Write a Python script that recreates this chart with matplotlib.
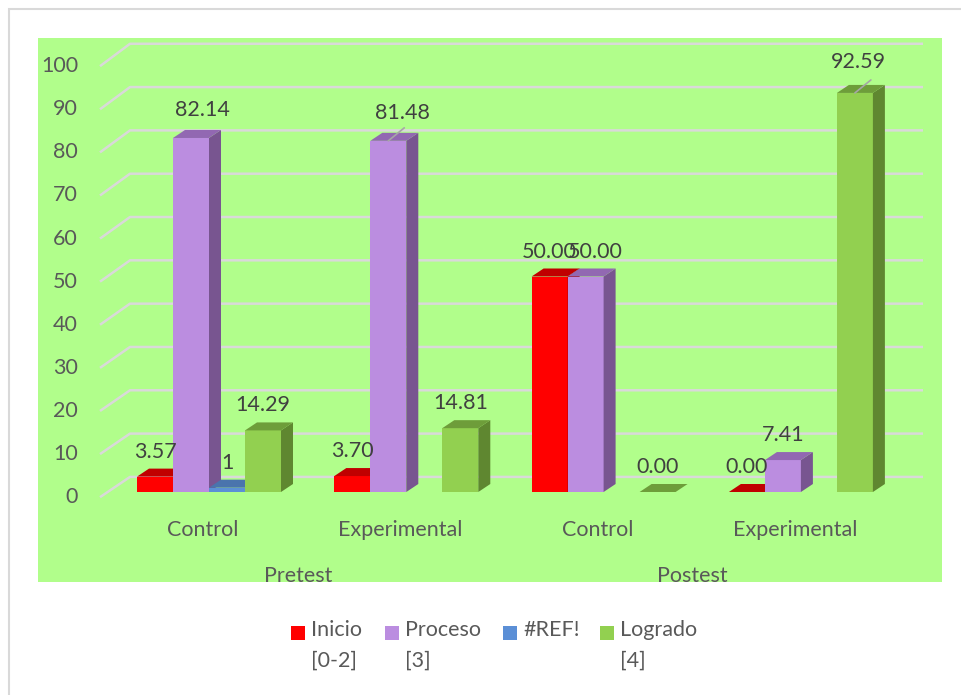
import matplotlib.pyplot as plt
from matplotlib.patches import Polygon, Rectangle
import numpy as np

plt.rcParams['font.family'] = ['Lato', 'DejaVu Sans']

# datos
grupos = ['Control', 'Experimental', 'Control', 'Experimental']
fases = ['Pretest', 'Postest']
series = ['Inicio\n[0-2]', 'Proceso\n[3]', '#REF!', 'Logrado\n[4]']
inicio = [3.57, 3.70, 50.00, 0.00]
proceso = [82.14, 81.48, 50.00, 7.41]
ref = [1, np.nan, np.nan, np.nan]
logrado = [14.29, 14.81, 0.00, 92.59]
valores = [inicio, proceso, ref, logrado]
formatos = ['{:.2f}', '{:.2f}', '{:g}', '{:.2f}']
ticks_y = list(range(0, 101, 10))

# colores: frente, arriba, lado
colores = [('#ff0000', '#c00000', '#a80000'),
           ('#bb8de0', '#9268b2', '#785590'),
           ('#5b8fd6', '#4a74ad', '#3d5f8f'),
           ('#92d050', '#6e9d3a', '#5f8730')]
verde_fondo = '#b1fe8b'
gris_texto = '#595959'
gris_dato = '#404040'

# escala en pixeles por unidad
PX = 197.3
PY = 4.31
ancho = 36 / PX
prof_x = 12 / PX
prof_y = 8 / PY

fig = plt.figure(figsize=(9.62, 6.95), dpi=100)
ax = fig.add_axes([38 / 962, (695 - 582) / 695, 904 / 962, 544 / 695])
ax.set_facecolor(verde_fondo)
ax.set_xlim((38 - 209) / PX, (942 - 209) / PX)
ax.set_ylim((492 - 582) / PY, (492 - 38) / PY)
for s in ax.spines.values():
    s.set_visible(False)
ax.set_xticks([])
ax.set_yticks([])

# borde exterior del grafico
fig.add_artist(Rectangle((9 / 962, -0.1), 1.2, 1.1 - 9 / 695, fill=False,
                         edgecolor='#d9d9d9', lw=1.5, transform=fig.transFigure))

# lineas de cuadricula (pared lateral + fondo)
x_frente = (100 - 209) / PX
x_fondo = (130 - 209) / PX
x_fin = (923 - 209) / PX
for v in ticks_y:
    yb = v * 1.005 + 3.5
    ax.plot([x_frente, x_fondo, x_fin], [v - 1.2, yb, yb], color='#d9d9d9',
            lw=1.8, zorder=1, solid_capstyle='butt')
    ax.text((78 - 209) / PX, v - 1.2, str(v), ha='right', va='center',
            fontsize=15.5, color=gris_texto)

# barras 3D
ajustes = {(1, 0): (11, 3), (1, 1): (14, 3), (1, 2): (10, 0), (3, 3): (4, 6)}
guias = [(1, 1), (3, 3)]
z = 2
for g in range(len(grupos)):
    for s, vals in enumerate(valores):
        h = vals[g]
        if np.isnan(h):
            continue
        x0 = g + (s - 2) * ancho
        frente, arriba, lado = colores[s]
        if h > 0:
            ax.add_patch(Rectangle((x0, 0), ancho, h, facecolor=frente,
                                   edgecolor='none', zorder=z))
            ax.add_patch(Polygon([(x0 + ancho, 0), (x0 + ancho + prof_x, prof_y),
                                  (x0 + ancho + prof_x, h + prof_y), (x0 + ancho, h)],
                                 facecolor=lado, edgecolor='none', zorder=z))
        ax.add_patch(Polygon([(x0, h), (x0 + ancho, h), (x0 + ancho + prof_x, h + prof_y),
                              (x0 + prof_x, h + prof_y)],
                             facecolor=arriba, edgecolor='none', zorder=z))
        z += 1
        dx, dy = ajustes.get((s, g), (0, 0))
        xc = x0 + ancho / 2
        ax.annotate(formatos[s].format(h), (xc, h), xytext=(dx * 0.72, (25 + dy) * 0.72),
                    textcoords='offset points', ha='center', va='center',
                    fontsize=15.5, color=gris_dato, zorder=50)
        if (s, g) in guias:
            ax.annotate('', (xc, h), xytext=(16 * 0.72, 13 * 0.72),
                        textcoords='offset points',
                        arrowprops=dict(arrowstyle='-', color='#a6a6a6', lw=1.2,
                                        shrinkA=0, shrinkB=0), zorder=49)

# etiquetas de categorias
for g, nombre in enumerate(grupos):
    ax.text(g - 0.03, -8.8, nombre, ha='center', va='center', fontsize=15.5,
            color=gris_texto)
for f, fase in enumerate(fases):
    ax.text(2 * f + 0.45, -19.5, fase, ha='center', va='center', fontsize=15.5,
            color=gris_texto)

# leyenda
leg_x = [291, 385, 503, 600]
for s, nombre in enumerate(series):
    fig.add_artist(Rectangle((leg_x[s] / 962, 1 - 640 / 695), 14 / 962, 14 / 695,
                             facecolor=colores[s][0], edgecolor='none',
                             transform=fig.transFigure))
    fig.text((leg_x[s] + 20) / 962, 1 - 620 / 695, nombre, ha='left', va='top',
             fontsize=15.5, color=gris_texto, linespacing=1.65)

fig.savefig('out.png', dpi=100)
